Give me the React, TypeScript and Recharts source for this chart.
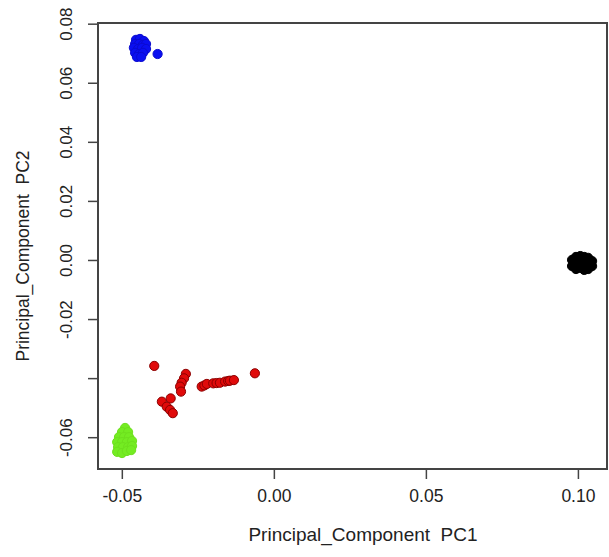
import React from 'react';
import { ScatterChart, Scatter, XAxis, YAxis, ReferenceArea } from 'recharts';

// PC1 / PC2 scores per group
const blueGroup = [
  { x: -0.0455, y: 0.0747 }, { x: -0.0442, y: 0.075 }, { x: -0.0429, y: 0.0743 },
  { x: -0.0458, y: 0.0733 }, { x: -0.0445, y: 0.0733 }, { x: -0.0432, y: 0.073 },
  { x: -0.0422, y: 0.0733 }, { x: -0.0462, y: 0.072 }, { x: -0.0448, y: 0.0716 },
  { x: -0.0435, y: 0.072 }, { x: -0.0422, y: 0.0716 }, { x: -0.0458, y: 0.0703 },
  { x: -0.0445, y: 0.0699 }, { x: -0.0432, y: 0.0703 }, { x: -0.0452, y: 0.0689 },
  { x: -0.0438, y: 0.0689 }, { x: -0.0384, y: 0.0699 },
];

const blackGroup = [
  { x: 0.0979, y: 0.0002 }, { x: 0.0979, y: -0.0019 }, { x: 0.0992, y: 0.0012 },
  { x: 0.0992, y: -0.0008 }, { x: 0.0992, y: -0.0029 }, { x: 0.1006, y: 0.0015 },
  { x: 0.1006, y: -0.0005 }, { x: 0.1006, y: -0.0025 }, { x: 0.1019, y: 0.0012 },
  { x: 0.1019, y: -0.0008 }, { x: 0.1019, y: -0.0032 }, { x: 0.1032, y: 0.0009 },
  { x: 0.1032, y: -0.0012 }, { x: 0.1032, y: -0.0029 }, { x: 0.1045, y: -0.0002 },
  { x: 0.1045, y: -0.0019 },
];

const greenGroup = [
  { x: -0.0491, y: -0.0567 }, { x: -0.0501, y: -0.0581 }, { x: -0.0481, y: -0.0581 },
  { x: -0.0511, y: -0.0598 }, { x: -0.0494, y: -0.0598 }, { x: -0.0478, y: -0.0598 },
  { x: -0.0517, y: -0.0615 }, { x: -0.0501, y: -0.0615 }, { x: -0.0485, y: -0.0615 },
  { x: -0.0468, y: -0.0611 }, { x: -0.0514, y: -0.0632 }, { x: -0.0498, y: -0.0632 },
  { x: -0.0481, y: -0.0632 }, { x: -0.0468, y: -0.0628 }, { x: -0.0517, y: -0.0648 },
  { x: -0.0501, y: -0.0652 }, { x: -0.0485, y: -0.0645 }, { x: -0.0471, y: -0.0642 },
];

const redGroup = [
  { x: -0.0395, y: -0.0357 }, { x: -0.0064, y: -0.0382 },
  { x: -0.0239, y: -0.0427 }, { x: -0.023, y: -0.0423 }, { x: -0.0222, y: -0.0418 },
  { x: -0.0201, y: -0.0416 }, { x: -0.019, y: -0.0415 }, { x: -0.0179, y: -0.0414 },
  { x: -0.0162, y: -0.041 }, { x: -0.0152, y: -0.0408 }, { x: -0.0146, y: -0.0407 },
  { x: -0.0133, y: -0.0405 },
  { x: -0.0291, y: -0.0384 }, { x: -0.0297, y: -0.0399 }, { x: -0.0305, y: -0.0414 },
  { x: -0.031, y: -0.0427 }, { x: -0.0307, y: -0.0444 },
  { x: -0.037, y: -0.0478 }, { x: -0.0341, y: -0.0467 }, { x: -0.0354, y: -0.0495 },
  { x: -0.0343, y: -0.0506 }, { x: -0.0334, y: -0.0517 },
];

const xTicks = [-0.05, 0, 0.05, 0.1];
const yTicks = [-0.06, -0.04, -0.02, 0, 0.02, 0.04, 0.06, 0.08];
const xDomain = [-0.058, 0.1094];
const yDomain = [-0.0706, 0.0804];

const font = '"Liberation Sans", Arial, Helvetica, sans-serif';
const ink = '#222';

const fmt = (v: number) => (v < 0 ? '-' : '') + Math.abs(v).toFixed(2);

const XTick = ({ x, payload }: any) => (
  <text x={x} y={502} textAnchor="middle" fontSize={17.5} fontFamily={font} fill={ink}>
    {fmt(payload.value)}
  </text>
);

// R leaves out -0.04 because it would overlap its neighbours
const YTick = ({ y, payload }: any) =>
  Math.abs(payload.value + 0.04) < 1e-9 ? (
    <g />
  ) : (
    <text
      transform={`translate(72, ${y}) rotate(-90)`}
      textAnchor="middle"
      fontSize={17}
      fontFamily={font}
      fill={ink}
    >
      {fmt(payload.value)}
    </text>
  );

const dot = (fill: string, stroke: string) => (p: any) => (
  <circle cx={p.cx} cy={p.cy} r={4.6} fill={fill} stroke={stroke} strokeWidth={1} />
);

export default function App() {
  return (
    <div style={{ position: 'absolute', left: 0, top: 0, background: '#fff' }}>
      <ScatterChart
        width={609}
        height={557}
        margin={{ top: 23, right: 2, bottom: 0, left: 0 }}
      >
        <XAxis
          type="number"
          dataKey="x"
          domain={xDomain}
          ticks={xTicks}
          allowDataOverflow
          axisLine={false}
          tickSize={10}
          tickLine={{ stroke: '#444', strokeWidth: 1.5 }}
          tick={<XTick />}
          height={88}
          label={{
            content: () => (
              <text x={363} y={541} textAnchor="middle" fontSize={19} fontFamily={font} fill={ink}>
                {'Principal_Component\u00a0\u00a0PC1'}
              </text>
            ),
          }}
        />
        <YAxis
          type="number"
          dataKey="y"
          domain={yDomain}
          ticks={yTicks}
          allowDataOverflow
          axisLine={false}
          tickSize={10}
          tickLine={{ stroke: '#444', strokeWidth: 1.5 }}
          tick={<YTick />}
          width={98}
          label={{
            content: () => (
              <text
                transform="translate(29, 256) rotate(-90)"
                textAnchor="middle"
                fontSize={17.5}
                fontFamily={font}
                fill={ink}
              >
                {'Principal_Component\u00a0\u00a0PC2'}
              </text>
            ),
          }}
        />
        <ReferenceArea
          x1={xDomain[0]}
          x2={xDomain[1]}
          y1={yDomain[0]}
          y2={yDomain[1]}
          fill="none"
          fillOpacity={0}
          stroke="#444"
          strokeWidth={2}
        />
        <Scatter data={blueGroup} shape={dot('#0a0ff0', '#0a0ad0')} isAnimationActive={false} />
        <Scatter data={blackGroup} shape={dot('#000', '#000')} isAnimationActive={false} />
        <Scatter data={greenGroup} shape={dot('#74ec22', '#6ee01e')} isAnimationActive={false} />
        <Scatter data={redGroup} shape={dot('#e00a0a', '#8c0000')} isAnimationActive={false} />
      </ScatterChart>
    </div>
  );
}
